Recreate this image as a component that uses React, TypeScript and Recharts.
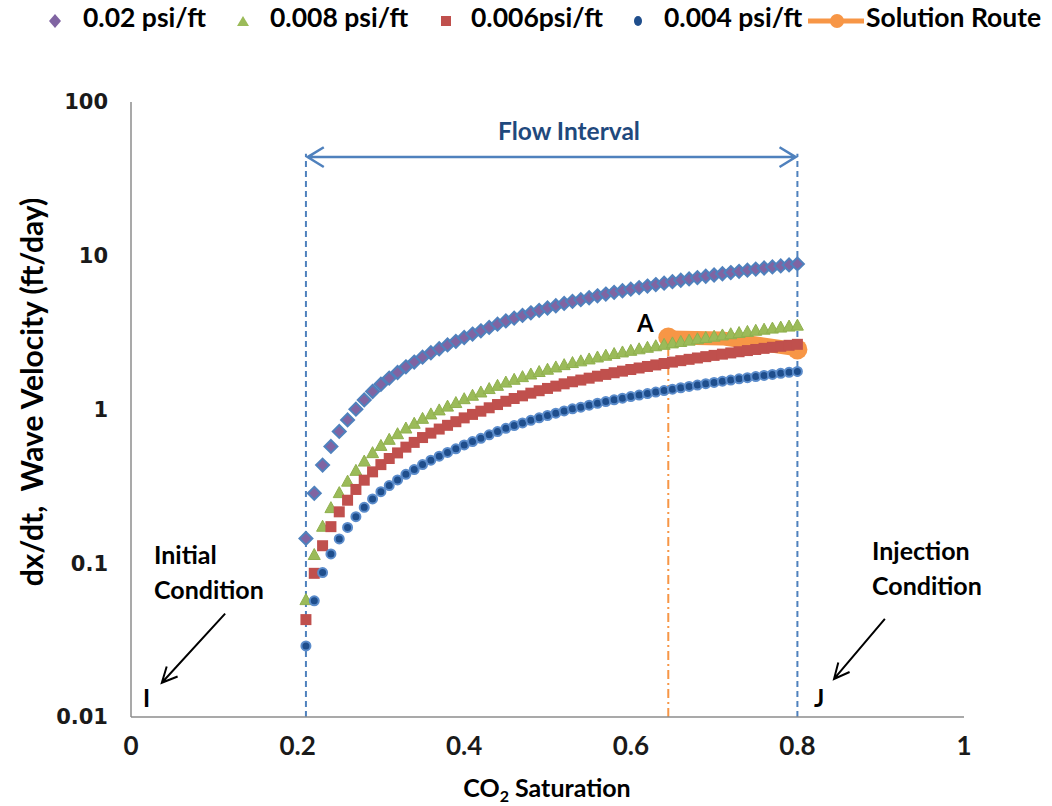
import React from "react";
import {
  ComposedChart,
  Scatter,
  Line,
  XAxis,
  YAxis,
  ReferenceLine,
} from "recharts";

// CO2 saturation of each computed point
const SATURATION = [
  0.21, 0.22, 0.23, 0.24, 0.25, 0.26, 0.27, 0.28, 0.29, 0.3,
  0.31, 0.32, 0.33, 0.34, 0.35, 0.36, 0.37, 0.38, 0.39, 0.4,
  0.41, 0.42, 0.43, 0.44, 0.45, 0.46, 0.47, 0.48, 0.49, 0.5,
  0.51, 0.52, 0.53, 0.54, 0.55, 0.56, 0.57, 0.58, 0.59, 0.6,
  0.61, 0.62, 0.63, 0.64, 0.65, 0.66, 0.67, 0.68, 0.69, 0.7,
  0.71, 0.72, 0.73, 0.74, 0.75, 0.76, 0.77, 0.78, 0.79, 0.8,
];

// wave velocity (ft/day) for each pressure gradient
const VEL_020 = [
  0.145, 0.285, 0.435, 0.575, 0.72, 0.855, 1.005, 1.155, 1.31, 1.46,
  1.6, 1.74, 1.895, 2.035, 2.19, 2.34, 2.485, 2.63, 2.775, 2.94,
  3.095, 3.25, 3.42, 3.59, 3.77, 3.93, 4.09, 4.255, 4.415, 4.57,
  4.73, 4.895, 5.05, 5.18, 5.33, 5.49, 5.635, 5.78, 5.92, 6.065,
  6.205, 6.35, 6.495, 6.635, 6.78, 6.925, 7.065, 7.21, 7.355, 7.495,
  7.635, 7.775, 7.915, 8.055, 8.19, 8.325, 8.46, 8.59, 8.72, 8.845,
];
const VEL_008 = [
  0.058, 0.114, 0.174, 0.23, 0.288, 0.342, 0.402, 0.462, 0.524, 0.584,
  0.64, 0.696, 0.758, 0.814, 0.876, 0.936, 0.994, 1.052, 1.11, 1.176,
  1.238, 1.3, 1.368, 1.436, 1.508, 1.572, 1.636, 1.702, 1.766, 1.828,
  1.892, 1.958, 2.02, 2.072, 2.132, 2.196, 2.254, 2.312, 2.368, 2.426,
  2.482, 2.54, 2.598, 2.654, 2.712, 2.77, 2.826, 2.884, 2.942, 2.998,
  3.054, 3.11, 3.166, 3.222, 3.276, 3.33, 3.384, 3.436, 3.488, 3.538,
];
const VEL_006 = [
  0.043, 0.086, 0.13, 0.173, 0.216, 0.257, 0.302, 0.347, 0.393, 0.438,
  0.48, 0.522, 0.569, 0.611, 0.657, 0.702, 0.746, 0.789, 0.833, 0.882,
  0.929, 0.975, 1.026, 1.077, 1.131, 1.179, 1.227, 1.277, 1.325, 1.371,
  1.419, 1.469, 1.515, 1.554, 1.599, 1.647, 1.691, 1.734, 1.776, 1.82,
  1.862, 1.905, 1.949, 1.991, 2.034, 2.078, 2.12, 2.163, 2.207, 2.249,
  2.291, 2.333, 2.375, 2.417, 2.457, 2.498, 2.538, 2.577, 2.616, 2.654,
];
const VEL_004 = [
  0.029, 0.057, 0.087, 0.115, 0.144, 0.171, 0.201, 0.231, 0.262, 0.292,
  0.32, 0.348, 0.379, 0.407, 0.438, 0.468, 0.497, 0.526, 0.555, 0.588,
  0.619, 0.65, 0.684, 0.718, 0.754, 0.786, 0.818, 0.851, 0.883, 0.914,
  0.946, 0.979, 1.01, 1.036, 1.066, 1.098, 1.127, 1.156, 1.184, 1.213,
  1.241, 1.27, 1.299, 1.327, 1.356, 1.385, 1.413, 1.442, 1.471, 1.499,
  1.527, 1.555, 1.583, 1.611, 1.638, 1.665, 1.692, 1.718, 1.744, 1.769,
];

const ROUTE_SAT = [0.645, 0.71, 0.8];
const ROUTE_VEL = [2.94, 2.9, 2.46];

const X_TICKS = [0, 0.2, 0.4, 0.6, 0.8, 1];
const Y_TICKS = [0.01, 0.1, 1, 10, 100];

const FONT = "Lato, 'Open Sans', sans-serif";
const BLUE = "#4F81BD";
const ORANGE = "#F79646";

const toPoints = (vals: number[]) =>
  SATURATION.map((s, i) => ({ s, v: vals[i] }));
const routePoints = ROUTE_SAT.map((s, i) => ({ s, v: ROUTE_VEL[i] }));

/* ---------- marker shapes ---------- */
const Diamond = (p: any) => {
  const { cx, cy } = p;
  const r = 6.5;
  return (
    <polygon
      points={`${cx},${cy - r} ${cx + r},${cy} ${cx},${cy + r} ${cx - r},${cy}`}
      fill="#8064A2"
      stroke={BLUE}
      strokeWidth={2}
    />
  );
};
const Triangle = (p: any) => {
  const { cx, cy } = p;
  return (
    <polygon
      points={`${cx},${cy - 6} ${cx + 6},${cy + 5} ${cx - 6},${cy + 5}`}
      fill="#9BBB59"
      stroke="#8FB04E"
      strokeWidth={1}
    />
  );
};
const Square = (p: any) => {
  const { cx, cy } = p;
  return <rect x={cx - 5.5} y={cy - 5.5} width={11} height={11} fill="#C0504D" />;
};
const Dot = (p: any) => {
  const { cx, cy } = p;
  return <circle cx={cx} cy={cy} r={4.5} fill="#1F4E8C" stroke="#5B8CCB" strokeWidth={2} />;
};

// route markers only at both ends of the route
const RouteDot = (p: any) => {
  const { cx, cy, index } = p;
  if (index !== 0 && index !== ROUTE_SAT.length - 1) return <g key={index} />;
  return <circle key={index} cx={cx} cy={cy} r={10} fill={ORANGE} />;
};

// line with open arrow head(s), drawn between the segment's end points
const arrowShape =
  (color: string, width: number, len: number, spread: number, both: boolean) =>
  (p: any) => {
    const { x1, y1, x2, y2 } = p;
    const a = Math.atan2(y2 - y1, x2 - x1);
    const head = (x: number, y: number, ang: number) => {
      const l = `${x - len * Math.cos(ang - spread)},${y - len * Math.sin(ang - spread)}`;
      const r = `${x - len * Math.cos(ang + spread)},${y - len * Math.sin(ang + spread)}`;
      return `M${l} L${x},${y} L${r}`;
    };
    let d = `M${x1},${y1} L${x2},${y2} ` + head(x2, y2, a);
    if (both) d += " " + head(x1, y1, a + Math.PI);
    return <path d={d} fill="none" stroke={color} strokeWidth={width} />;
  };

const LEGEND = [
  { label: "0.02 psi/ft", left: 83, mark: <polygon points="6,0 12,7 6,14 0,7" fill="#8064A2" />, mx: 49 },
  { label: "0.008 psi/ft", left: 270, mark: <polygon points="6,2 12,12 0,12" fill="#9BBB59" />, mx: 237 },
  { label: "0.006psi/ft", left: 471, mark: <rect x={1} y={2} width={10} height={10} fill="#C0504D" />, mx: 440 },
  { label: "0.004 psi/ft", left: 664, mark: <ellipse cx={6} cy={7} rx={4} ry={5} fill="#1F4E8C" />, mx: 632 },
];

const textStyle: React.CSSProperties = {
  position: "absolute",
  fontFamily: FONT,
  fontWeight: 700,
  color: "#000",
  whiteSpace: "nowrap",
  lineHeight: 1,
};

export default function App() {
  return (
    <div
      style={{
        position: "absolute",
        left: 0,
        top: 0,
        width: 1052,
        height: 806,
        background: "#fff",
        fontFamily: FONT,
      }}
    >
      <ComposedChart
        width={1052}
        height={806}
        margin={{ top: 102, right: 88, bottom: 0, left: 0 }}
      >
        <XAxis
          type="number"
          dataKey="s"
          domain={[0, 1]}
          ticks={X_TICKS}
          height={89}
          tickSize={0}
          tickMargin={20}
          axisLine={{ stroke: "#8C8C8C", strokeWidth: 1.5 }}
          tick={{ fontFamily: FONT, fontWeight: 700, fontSize: 26, fill: "#1a1a1a" }}
          allowDataOverflow
        />
        <YAxis
          type="number"
          dataKey="v"
          scale="log"
          domain={[0.01, 100]}
          ticks={Y_TICKS}
          width={131}
          tickSize={0}
          tickMargin={23}
          axisLine={{ stroke: "#8C8C8C", strokeWidth: 1.5 }}
          tick={{ fontFamily: "'DejaVu Sans', sans-serif", fontWeight: 700, fontSize: 21, fill: "#1a1a1a" }}
          allowDataOverflow
        />

        {/* flow interval boundaries */}
        <ReferenceLine
          segment={[{ x: 0.21, y: 0.01 }, { x: 0.21, y: 46 }]}
          stroke={BLUE}
          strokeWidth={2}
          strokeDasharray="6 4"
        />
        <ReferenceLine
          segment={[{ x: 0.8, y: 0.01 }, { x: 0.8, y: 46 }]}
          stroke={BLUE}
          strokeWidth={2}
          strokeDasharray="6 4"
        />
        <ReferenceLine
          segment={[{ x: 0.212, y: 43.8 }, { x: 0.798, y: 43.8 }]}
          shape={arrowShape(BLUE, 2.5, 19, 0.55, true)}
        />
        {/* drop from A */}
        <ReferenceLine
          segment={[{ x: 0.645, y: 0.01 }, { x: 0.645, y: 2.75 }]}
          stroke={ORANGE}
          strokeWidth={2}
          strokeDasharray="9 4 2 4"
        />
        {/* I and J pointers */}
        <ReferenceLine
          segment={[{ x: 0.113, y: 0.047 }, { x: 0.037, y: 0.0167 }]}
          shape={arrowShape("#000", 2, 17, 0.45, false)}
        />
        <ReferenceLine
          segment={[{ x: 0.905, y: 0.0435 }, { x: 0.844, y: 0.0177 }]}
          shape={arrowShape("#000", 2, 17, 0.45, false)}
        />

        <Line
          data={routePoints}
          dataKey="v"
          type="linear"
          stroke={ORANGE}
          strokeWidth={14}
          strokeLinecap="round"
          dot={RouteDot}
          isAnimationActive={false}
        />
        <Scatter data={toPoints(VEL_020)} dataKey="v" shape={Diamond} isAnimationActive={false} />
        <Scatter data={toPoints(VEL_008)} dataKey="v" shape={Triangle} isAnimationActive={false} />
        <Scatter data={toPoints(VEL_006)} dataKey="v" shape={Square} isAnimationActive={false} />
        <Scatter data={toPoints(VEL_004)} dataKey="v" shape={Dot} isAnimationActive={false} />
      </ComposedChart>

      {/* legend */}
      {LEGEND.map((l) => (
        <React.Fragment key={l.label}>
          <svg
            width={14}
            height={14}
            style={{ position: "absolute", left: l.mx, top: 14 }}
          >
            {l.mark}
          </svg>
          <div style={{ ...textStyle, left: l.left, top: 4, fontSize: 26.5 }}>{l.label}</div>
        </React.Fragment>
      ))}
      <svg width={56} height={20} style={{ position: "absolute", left: 808, top: 11 }}>
        <line x1={0} y1={10} x2={56} y2={10} stroke={ORANGE} strokeWidth={5} />
        <circle cx={29} cy={10} r={7} fill={ORANGE} />
      </svg>
      <div style={{ ...textStyle, left: 866, top: 4, fontSize: 26.5 }}>Solution Route</div>

      {/* axis titles */}
      <div
        style={{
          ...textStyle,
          left: 31,
          top: 392,
          fontSize: 30,
          transform: "translate(-50%, -50%) rotate(-90deg)",
        }}
      >
        dx/dt,&nbsp; Wave Velocity (ft/day)
      </div>
      <div style={{ ...textStyle, left: 547, top: 775, fontSize: 25, transform: "translateX(-50%)" }}>
        CO<sub style={{ fontSize: 16, verticalAlign: "-5px" }}>2</sub> Saturation
      </div>

      {/* annotations */}
      <div
        style={{
          ...textStyle,
          left: 569,
          top: 119,
          fontSize: 24.5,
          color: "#1F497D",
          transform: "translateX(-50%)",
        }}
      >
        Flow Interval
      </div>
      <div style={{ ...textStyle, left: 637, top: 311, fontSize: 24 }}>A</div>
      <div style={{ ...textStyle, left: 154, top: 537, fontSize: 25, lineHeight: "35px" }}>
        Initial
        <br />
        Condition
      </div>
      <div style={{ ...textStyle, left: 872, top: 533, fontSize: 25, lineHeight: "35px" }}>
        Injection
        <br />
        Condition
      </div>
      <div style={{ ...textStyle, left: 143, top: 686, fontSize: 24 }}>I</div>
      <div style={{ ...textStyle, left: 814, top: 686, fontSize: 24 }}>J</div>
    </div>
  );
}
